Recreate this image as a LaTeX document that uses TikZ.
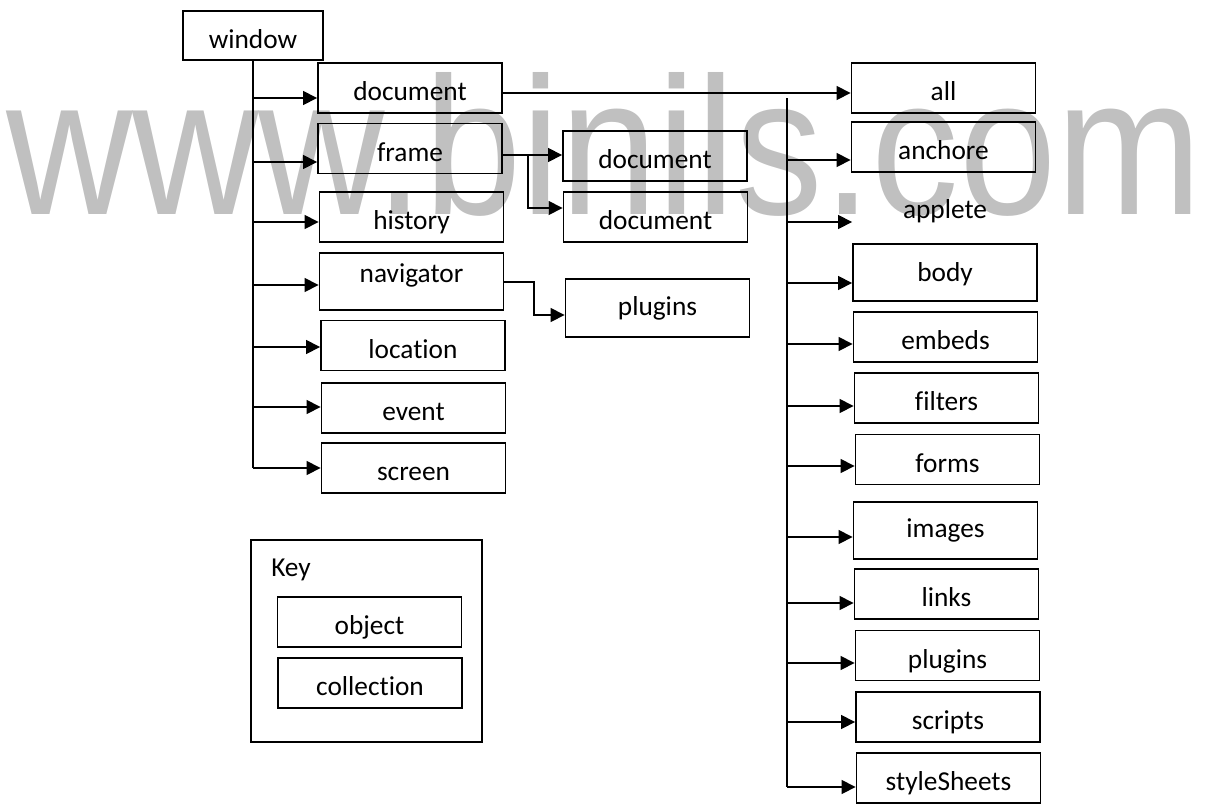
\documentclass[tikz,border=0pt]{standalone}
\usepackage{fontspec}
\setmainfont{Carlito}[Ligatures=NoCommon]
\newfontfamily\markfont{Liberation Sans}
\usetikzlibrary{arrows.meta}
\definecolor{wmgray}{RGB}{192,192,192}

\begin{document}
\begin{tikzpicture}[x=0.75pt, y=-0.75pt, font=\fontsize{20.5}{24}\selectfont]
    \tikzstyle{box}   = [draw, rectangle, line width=1.4pt, minimum width=138pt, minimum height=37.5pt, inner sep=0pt, text height=19pt, text depth=0pt]
    \tikzstyle{tall}  = [minimum height=43pt, text height=14pt]
    \tikzstyle{link}  = [line width=1.1pt]
    \tikzstyle{arrow} = [link, -{Triangle[length=10.5pt,width=10.5pt]}]

    \useasboundingbox (0,0) rectangle (1210,807);

    % Watermark
    \node [anchor=base west, inner sep=0pt, text=wmgray, xscale=0.893, font=\markfont\fontsize{147}{150}\selectfont] (mark) at (6,214) {www.binils.com};

    % window and its objects
    \node [box, minimum width=105pt, minimum height=37pt] (window) at (253,35.5) {window};
    \node [box] (doc) at (410,88) {document};
    \node [box] (frame) at (410,148.5) {frame};
    \node [box] (history) at (411.5,217) {history};
    \node [box, tall, text height=14pt, text depth=13pt] (navigator) at (411.5,281.5) {navigator};
    \node [box] (location) at (413,345.5) {location};
    \node [box] (event) at (413.5,408) {event};
    \node [box] (screen) at (413.5,468) {screen};

    % frame and navigator children
    \node [box] (fdoc1) at (655,156) {document};
    \node [box] (fdoc2) at (655.5,217) {document};
    \node [box, tall, minimum height=43.5pt, text height=10.5pt] (navplug) at (657.5,308) {plugins};

    % document collections
    \node [box] (all) at (943.5,88) {all};
    \node [box] (anchore) at (943.5,147) {anchore};
    \node [box, draw=none] (applete) at (945,205.5) {applete};
    \node [box, tall] (body) at (945,272.5) {body};
    \node [box] (embeds) at (945.5,337) {embeds};
    \node [box] (filters) at (946.5,398) {filters};
    \node [box] (forms) at (947.5,459.5) {forms};
    \node [box, tall, text height=11.2pt] (images) at (945.5,530.5) {images};
    \node [box] (links) at (946.5,594) {links};
    \node [box] (plugins) at (947.5,655.5) {plugins};
    \node [box] (scripts) at (948,717) {scripts};
    \node [box] (styleSheets) at (948.5,778) {styleSheets};

    % Key
    \node [draw, line width=1.4pt, minimum width=173pt, minimum height=151.5pt] (key) at (366.5,641) {};
    \node [anchor=base west, inner sep=0pt] (keylabel) at (271,576) {Key};
    \node [box] (object) at (369.5,622) {object};
    \node [box] (collection) at (370,683) {collection};

    % Connections
    \draw [link] (window.south) -- (window.south |- 0,468);
    \foreach \nd/\y in {doc/98, frame/162, history/222, navigator/285, location/347, event/407, screen/468}
        \draw [arrow] (window.south |- 0,\y) -- (\nd.west |- 0,\y);

    \coordinate (fsplit) at (528,155);
    \draw [arrow] (frame.east |- fsplit) -- (fdoc1.west |- fsplit);
    \draw [arrow] (fsplit) |- (fdoc2.west |- 0,208);

    \coordinate (nsplit) at (534,282);
    \draw [arrow] (navigator.east |- nsplit) -- (nsplit) |- (navplug.west |- 0,315);

    \draw [arrow] (doc.east |- 0,93) -- (all.west |- 0,93);

    \coordinate (rtrunk) at (787,98);
    \draw [link] (rtrunk) -- (rtrunk |- 0,787);
    \foreach \nd/\y in {anchore/160, applete/222, body/283, embeds/344, filters/406, forms/466, images/537, links/603, plugins/663, scripts/722, styleSheets/787}
        \draw [arrow] (rtrunk |- 0,\y) -- (\nd.west |- 0,\y);
\end{tikzpicture}
\end{document}
